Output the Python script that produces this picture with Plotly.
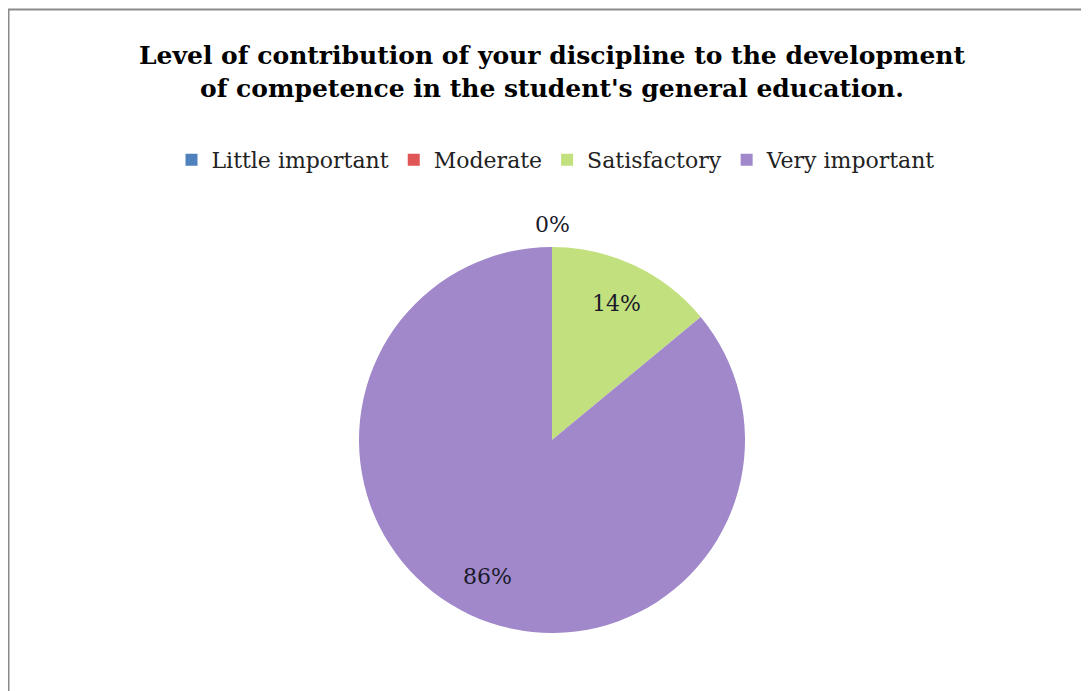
import math
import plotly.graph_objects as go

categories = ["Little important", "Moderate", "Satisfactory", "Very important"]
values = [0, 0, 14, 86]
colors = ["#4F81BD", "#E05555", "#C3E07F", "#A088CB"]
title_text = "Level of contribution of your discipline to the development<br>of competence in the student's general education."

W, H = 1089, 691
off = 8  # page body margin
cx, cy, r = 552 - off, 440 - off, 193
label_font = dict(family="DejaVu Serif", size=22, color="#1a1a2a")

fig = go.Figure(go.Pie(
    labels=categories,
    values=values,
    sort=False,
    direction="clockwise",
    rotation=0,
    marker=dict(colors=colors, line=dict(width=0)),
    textinfo="none",
    showlegend=True,
    automargin=False,
    domain=dict(x=[(cx - 400) / W, (cx + 400) / W], y=[(H - cy - r) / H, (H - cy + r) / H]),
    hoverinfo="label+percent",
))

# data labels placed Excel-style (about 0.78 of the radius, at each slice's mid-angle)
total = sum(values)
annotations = []
cum = 0.0
zero_done = False
for v in values:
    frac = v / total
    if v == 0:
        if not zero_done:
            annotations.append(dict(text=f"{frac:.0%}", xref="paper", yref="paper",
                                    x=cx / W, y=1 - (cy - r - 8) / H, xanchor="center", yanchor="bottom",
                                    showarrow=False, font=label_font))
            zero_done = True
    else:
        ang = 2 * math.pi * (cum + frac / 2)
        px = cx + 0.78 * r * math.sin(ang)
        py = cy - 0.78 * r * math.cos(ang)
        annotations.append(dict(text=f"{frac:.0%}", xref="paper", yref="paper",
                                x=px / W, y=1 - py / H, xanchor="center", yanchor="middle",
                                showarrow=False, font=label_font))
    cum += frac

fig.update_layout(
    width=W, height=H,
    margin=dict(l=0, r=0, t=0, b=0, autoexpand=False),
    paper_bgcolor="white",
    title=dict(text=title_text, x=cx / W, xanchor="center", y=1 - 56 / H, yanchor="top",
               font=dict(family="DejaVu Serif", size=25, color="#000000", weight="bold")),
    legend=dict(orientation="h", x=(556 - off) / W, xanchor="center", y=1 - 131 / H, yanchor="top",
                font=dict(family="DejaVu Serif", size=22, color="#222222"),
                itemwidth=30, traceorder="normal"),
    annotations=annotations,
    shapes=[dict(type="rect", xref="paper", yref="paper", x0=0.5 / W, x1=1.05, y0=-0.05, y1=1 - 1.5 / H,
                 line=dict(color="#8a8a8a", width=2))],
)

fig.write_html("out.html")
